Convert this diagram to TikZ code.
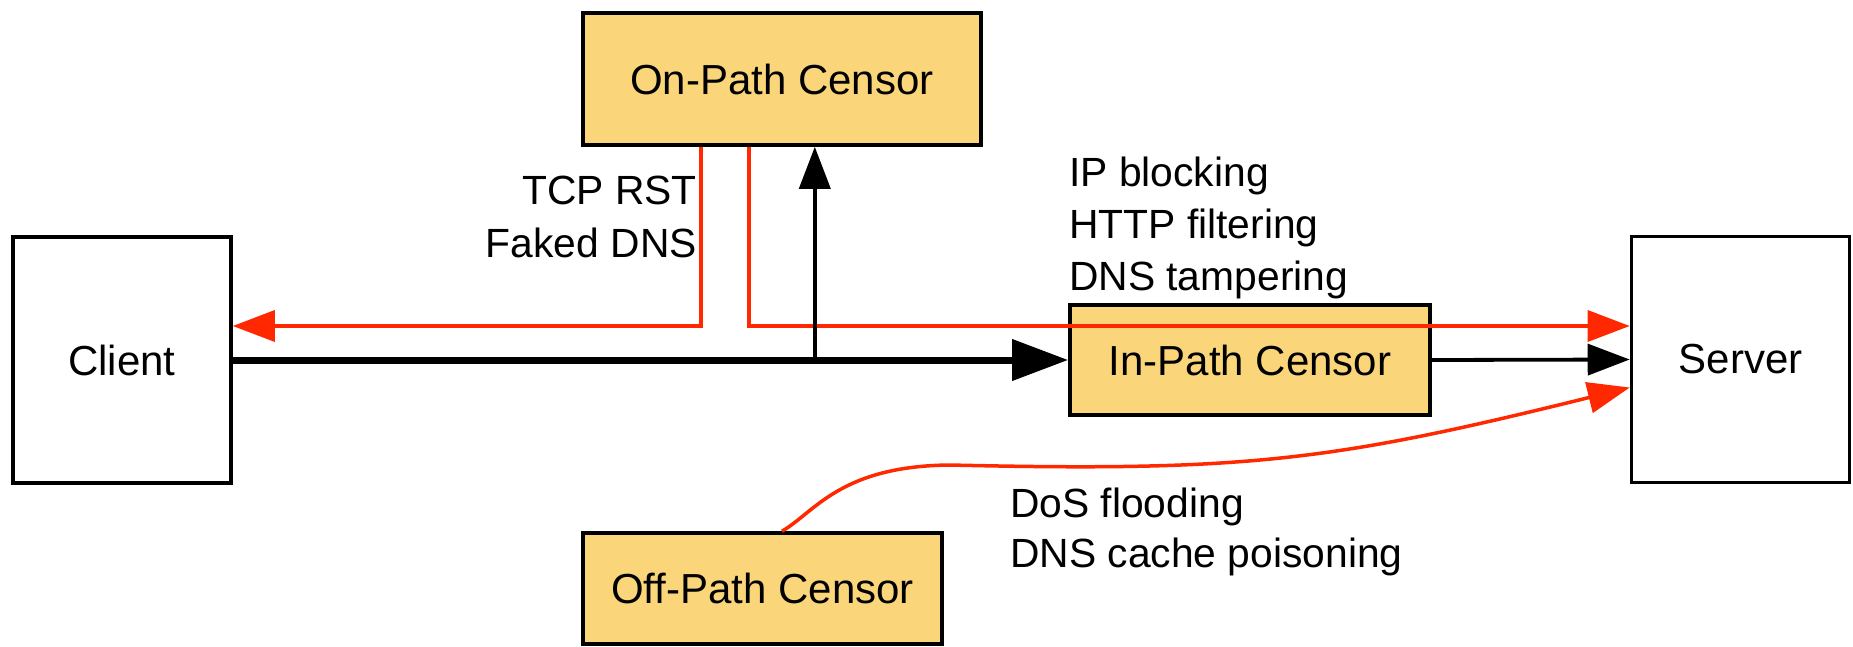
\documentclass[tikz,border=0pt]{standalone}
\usepackage{fontspec}
\setmainfont{Liberation Sans}
\usetikzlibrary{arrows.meta}
\definecolor{censorfill}{RGB}{250,213,122}
\definecolor{attackred}{RGB}{255,40,0}
\begin{document}
\begin{tikzpicture}[x=1pt,y=-1pt,
  box/.style={draw=black, line width=3.6pt, inner sep=0pt, font={\fontsize{42}{50}\selectfont}},
  endpoint/.style={box, fill=white, minimum width=218pt, minimum height=246pt},
  censor/.style={box, fill=censorfill},
  label/.style={inner sep=0pt, font={\fontsize{40.8}{50}\selectfont}},
  flow/.style={draw=black, line width=3.8pt, -{Triangle[length=42pt,width=31pt]}},
  mainflow/.style={draw=black, line width=7pt, -{Triangle[length=56pt,width=40pt]}},
  attack/.style={draw=attackred, line width=3.5pt, -{Triangle[length=42pt,width=31pt]}}]
\fill[white] (0,0) rectangle (1853,646);
\useasboundingbox (0,0) rectangle (1853,646);

% end hosts and censors
\node[endpoint] (client) at (122,360) {Client};
\node[endpoint] (server) at (1740.5,359.5) {Server};
\node[censor, minimum width=398pt, minimum height=132pt] (onpath) at (782,79) {On-Path Censor};
\node[censor, minimum width=360pt, minimum height=110pt] (inpath) at (1250,360) {In-Path Censor};
\node[censor, minimum width=359pt, minimum height=111pt] (offpath) at (762.5,588.5) {Off-Path Censor};

% technique labels
\node[label, align=right, anchor=north east] (onlbl) at (697,175.4) {TCP RST\\[3pt]Faked DNS};
\node[label, align=left, anchor=north west] (inlbl) at (1069,156.4) {IP blocking\\[2pt]HTTP filtering\\[2pt]DNS tampering};
\node[label, align=left, anchor=north west] (offlbl) at (1010,487.4) {DoS flooding\\DNS cache poisoning};

% helper points
\path (onpath.south west) ++(120,0) coordinate (rstout);
\path (onpath.south west) ++(168,0) coordinate (fwdout);
\path (client.east) ++(582,0) coordinate (tap);
\path (offpath.north) ++(19.5,0) coordinate (floodout);

% injected / forged traffic
\draw[attack] (rstout) |- ([yshift=34pt]client.east);
\draw[attack] (fwdout) |- ([yshift=33.5pt]server.west);
\draw[attack] (floodout) .. controls (815,512) and (840,466) .. (950,465)
  .. controls (1250,472) and (1336,460) .. ([yshift=-28pt]server.west);

% regular traffic
\draw[mainflow] (client.east) -- (inpath.west);
\draw[flow] (inpath.east) -- (server.west);
\draw[flow] (tap) -- (tap |- onpath.south);
\end{tikzpicture}
\end{document}
